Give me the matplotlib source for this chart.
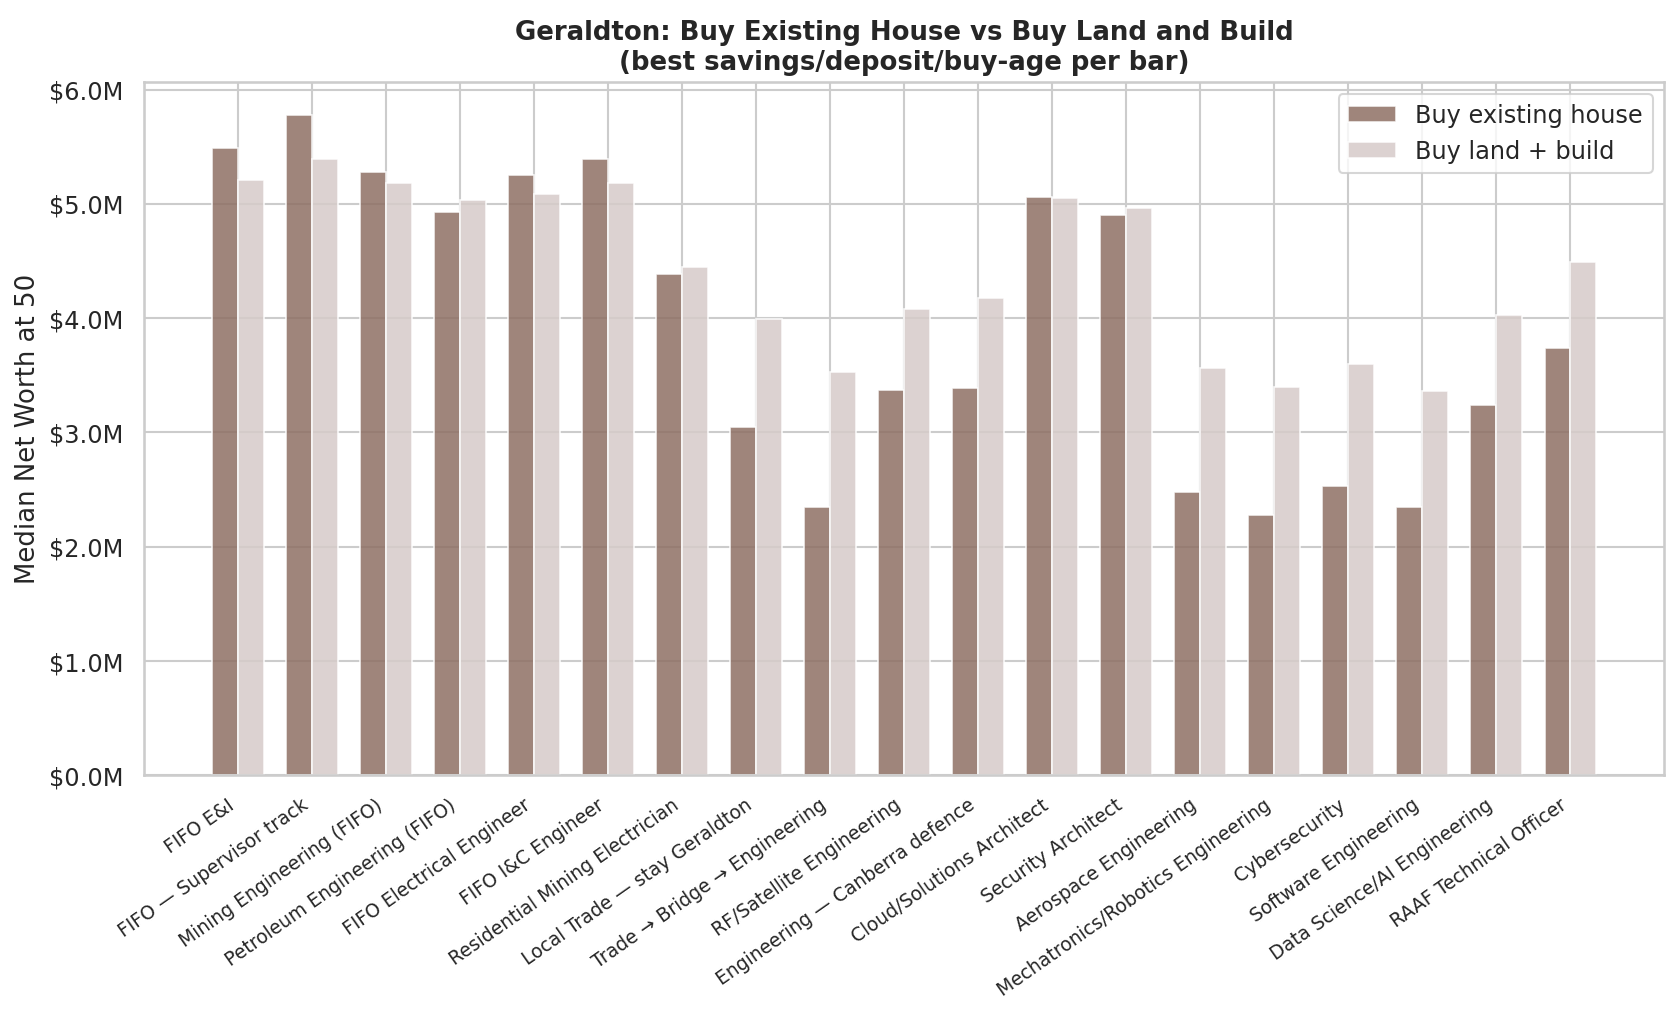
import numpy as np
import matplotlib.pyplot as plt
import seaborn as sns
from matplotlib.ticker import FuncFormatter

sns.set_theme(style="whitegrid")
plt.rcParams['font.family'] = ['DejaVu Sans']

careers = [
    "FIFO E&I", "FIFO — Supervisor track", "Mining Engineering (FIFO)",
    "Petroleum Engineering (FIFO)", "FIFO Electrical Engineer", "FIFO I&C Engineer",
    "Residential Mining Electrician", "Local Trade — stay Geraldton",
    "Trade → Bridge → Engineering", "RF/Satellite Engineering",
    "Engineering — Canberra defence", "Cloud/Solutions Architect",
    "Security Architect", "Aerospace Engineering",
    "Mechatronics/Robotics Engineering", "Cybersecurity", "Software Engineering",
    "Data Science/AI Engineering", "RAAF Technical Officer",
]
# median net worth at 50, $M
buy_existing = [5.49, 5.78, 5.28, 4.93, 5.25, 5.39, 4.39, 3.05, 2.35, 3.37,
                3.39, 5.06, 4.90, 2.48, 2.28, 2.53, 2.35, 3.24, 3.74]
land_build = [5.21, 5.39, 5.18, 5.03, 5.09, 5.18, 4.45, 3.99, 3.53, 4.08,
              4.18, 5.05, 4.96, 3.56, 3.40, 3.60, 3.36, 4.03, 4.49]

x = np.arange(len(careers))
w = 0.35

fig, ax = plt.subplots(figsize=(11.13, 6.77), dpi=150)
ax.bar(x - w / 2, buy_existing, w, color="#8e7064", alpha=0.85,
       edgecolor="white", linewidth=0.8, label="Buy existing house")
ax.bar(x + w / 2, land_build, w, color="#d6cbc9", alpha=0.85,
       edgecolor="white", linewidth=0.8, label="Buy land + build")

ax.set_xticks(x)
ax.set_xticklabels(careers, rotation=35, ha="right", fontsize=9)
ax.tick_params(axis="y", labelsize=11.5)
ax.yaxis.set_major_formatter(FuncFormatter(lambda v, p: f"${v:.1f}M"))
ax.set_ylim(0, max(buy_existing + land_build) * 1.05)
ax.set_xlim(-1.27, len(careers) - 1 + 1.27)
ax.set_ylabel("Median Net Worth at 50", fontsize=12.5)
ax.set_title("Geraldton: Buy Existing House vs Buy Land and Build\n"
             "(best savings/deposit/buy-age per bar)", fontsize=12.5, fontweight="bold")
ax.legend(loc="upper right", fontsize=11.5)

fig.subplots_adjust(left=0.086, right=0.997, top=0.919, bottom=0.236)
fig.savefig("out.png", dpi=150)
